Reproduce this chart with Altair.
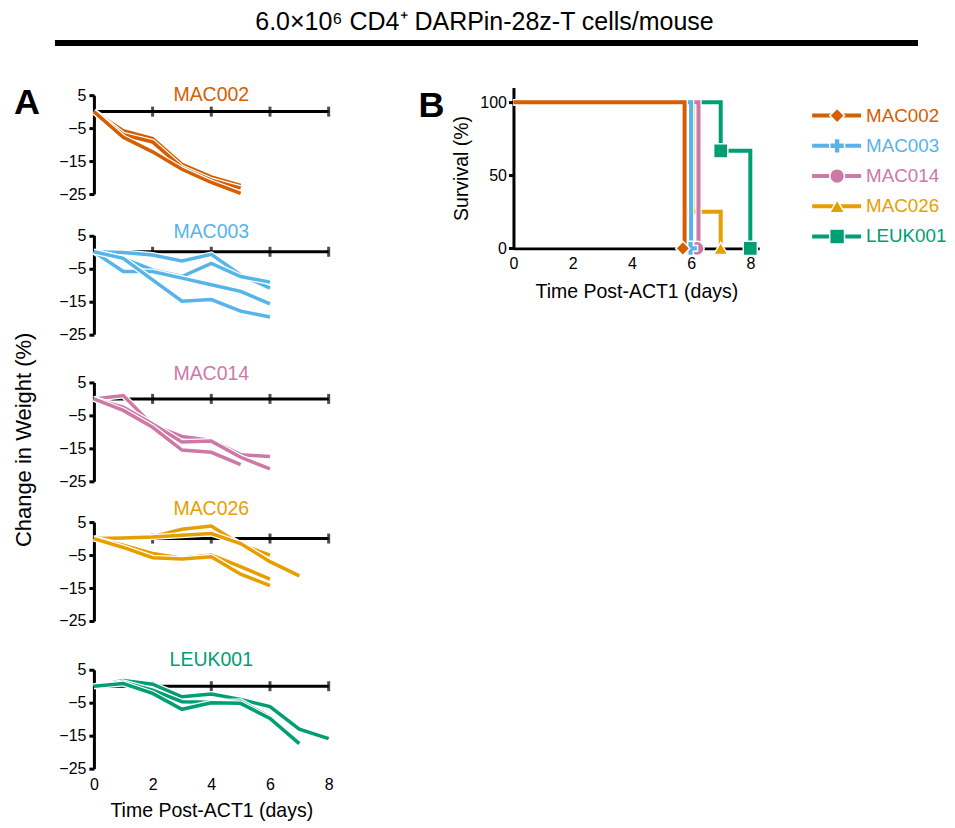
import altair as alt
import pandas as pd

FONT = "Liberation Sans"

header_title = "6.0×10⁶ CD4⁺ DARPin-28z-T cells/mouse"
panel_letters = ["A", "B"]
x_title = "Time Post-ACT1 (days)"
y_title_weight = "Change in Weight (%)"
y_title_surv = "Survival (%)"

groups = ["MAC002", "MAC003", "MAC014", "MAC026", "LEUK001"]
colors = ["#D55E00", "#56B4E9", "#CC79A7", "#E69F00", "#009E73"]
shapes = ["diamond", "cross", "circle", "triangle-up", "square"]

days = [0, 1, 2, 3, 4, 5, 6, 7, 8]
x_ticks = [0, 2, 4, 6, 8]
weight_ticks = [5, -5, -15, -25]
surv_ticks = [0, 50, 100]

# change in weight (%) per mouse, one value per day from day 0
weights = {
    "MAC002": [
        [0, -5.8, -8.2, -16.0, -19.8, -22.4],
        [0, -7.0, -9.2, -17.0, -20.8, -23.2],
        [0, -7.8, -12.2, -17.5, -21.5, -24.8],
    ],
    "MAC003": [
        [0, -0.2, -1.0, -2.8, -0.8, -7.0, -11.0],
        [0, -2.0, -5.5, -7.5, -3.5, -7.5, -9.2],
        [0, -6.0, -6.0, -8.0, -10.0, -12.0, -15.8],
        [0, -2.0, -8.5, -15.0, -14.5, -18.0, -19.8],
    ],
    "MAC014": [
        [0, 1.0, -8.0, -11.4, -12.6, -16.9, -17.5],
        [0, -2.5, -7.6, -13.1, -12.8, -17.7, -21.2],
        [0, -3.5, -8.6, -15.5, -16.2, -19.9],
    ],
    "MAC026": [
        [0, 0.3, 0.6, 2.8, 3.8, -1.8, -5.0],
        [0, 0.2, 0.5, 1.0, 1.5, -1.5, -7.0, -11.3],
        [0, -2.0, -4.5, -6.0, -5.0, -8.5, -12.3],
        [0, -2.7, -5.8, -6.2, -5.5, -10.8, -14.3],
    ],
    "LEUK001": [
        [0, 1.7, 0.6, -3.2, -2.4, -4.0, -6.2, -13.0, -15.9],
        [0, 1.2, -1.2, -4.7, -4.9, -4.6, -9.4, -17.0],
        [0, 0.8, -2.2, -7.0, -5.0, -5.2, -9.8, -17.4],
    ],
}

# Kaplan-Meier step vertices (time, survival %)
surv_times = {
    "MAC002": [0, 5.78, 5.78],
    "MAC003": [0, 6.0, 6.0],
    "MAC014": [0, 6.25, 6.25],
    "MAC026": [0, 6.05, 6.05, 7.0, 7.0],
    "LEUK001": [0, 7.0, 7.0, 8.0, 8.0],
}
surv_pct = {
    "MAC002": [100, 100, 0],
    "MAC003": [100, 100, 0],
    "MAC014": [100, 100, 0],
    "MAC026": [100, 100, 25, 25, 0],
    "LEUK001": [100, 100, 66.7, 66.7, 0],
}
marker_times = {
    "MAC002": [5.72],
    "MAC003": [5.98],
    "MAC014": [6.2],
    "MAC026": [5.9, 7.0],
    "LEUK001": [7.0, 8.0],
}
marker_pct = {
    "MAC002": [0],
    "MAC003": [0],
    "MAC014": [0],
    "MAC026": [25, 0],
    "LEUK001": [66.7, 0],
}

draw_order = ["LEUK001", "MAC026", "MAC014", "MAC003", "MAC002"]

# ---- layout constants ----
A_W, A_H, A_SPACING = 235, 99, 44.8
panel_shift = [0, -3.5, 0, -4, 0]
B_W, B_H, B_TOP = 246, 153.4, -7.6
title_dy = [0, -6.5, -8, -17, -10]
TICK_FS = 16
TITLE_FS = 19.5
LEG_FS = 18.8


def weight_panel(i):
    g = groups[i]
    c = colors[i]
    last = i == len(groups) - 1
    xs = alt.Scale(domain=[x_ticks[0], x_ticks[-1]], nice=False, zero=False)
    sh = panel_shift[i]
    ys = alt.Scale(domain=[weight_ticks[-1], weight_ticks[0]], range=[A_H + sh, sh],
                   nice=False, zero=False)
    if last:
        xaxis = alt.Axis(values=x_ticks, title=x_title, domain=False, ticks=False, tickSize=0,
                         grid=False, labelFont=FONT, labelFontSize=TICK_FS, labelColor="black",
                         labelPadding=8, labelFlush=False, titleFont=FONT, titleFontSize=TITLE_FS,
                         titleFontWeight="normal", titleColor="black", titlePadding=9)
    else:
        xaxis = None
    yaxis = alt.Axis(values=weight_ticks, title=None, grid=False, domainColor="black",
                     domainWidth=3, tickColor="black", tickWidth=3, tickSize=5,
                     labelFont=FONT, labelFontSize=TICK_FS, labelColor="black",
                     labelPadding=3, labelFlush=False)

    layers = []
    axis_df = pd.DataFrame({"x": [x_ticks[0]], "x2": [x_ticks[-1]], "y": [0]})
    layers.append(
        alt.Chart(axis_df).mark_rule(color="black", strokeWidth=3).encode(
            x=alt.X("x:Q", scale=xs, axis=xaxis), x2="x2:Q",
            y=alt.Y("y:Q", scale=ys, axis=yaxis)))
    tick_df = pd.DataFrame({"x": x_ticks[1:], "y": [0] * (len(x_ticks) - 1)})
    layers.append(
        alt.Chart(tick_df).mark_tick(orient="vertical", size=10, thickness=3, color="black").encode(
            x=alt.X("x:Q", scale=xs, axis=xaxis), y=alt.Y("y:Q", scale=ys, axis=yaxis)))
    for m, series in enumerate(weights[g]):
        sub = pd.DataFrame({"day": days[:len(series)], "w": series})
        enc = dict(x=alt.X("day:Q", scale=xs, axis=xaxis), y=alt.Y("w:Q", scale=ys, axis=yaxis))
        layers.append(alt.Chart(sub).mark_line(color="white", strokeWidth=6).encode(**enc))
        layers.append(alt.Chart(sub).mark_line(color=c, strokeWidth=3.5).encode(**enc))
    layers.append(
        alt.Chart(pd.DataFrame({"g": [g]})).mark_text(
            font=FONT, fontSize=TITLE_FS, color=c, baseline="middle", align="center").encode(
            text="g:N", x=alt.value(A_W / 2), y=alt.value(title_dy[i])))
    if i == 0:
        layers.append(
            alt.Chart(pd.DataFrame({"p": [panel_letters[0]]})).mark_text(
                font=FONT, fontSize=36, fontWeight="bold", color="black",
                baseline="middle", align="center").encode(
                text="p:N", x=alt.value(-67), y=alt.value(8.2)))
    if i == 2:
        layers.append(
            alt.Chart(pd.DataFrame({"t": [y_title_weight]})).mark_text(
                font=FONT, fontSize=22, color="black", angle=270,
                baseline="middle", align="center").encode(
                text="t:N", x=alt.value(-70), y=alt.value(57.5)))
    return alt.layer(*layers).properties(width=A_W, height=A_H)


def survival_chart():
    xs = alt.Scale(domain=[0, 8.3], nice=False, zero=False)
    ys = alt.Scale(domain=[0, 110], range=[B_H, B_TOP], nice=False, zero=False)
    xaxis = alt.Axis(values=x_ticks, title=x_title, domainColor="black", domainWidth=3,
                     ticks=False, tickSize=0, grid=False, labelFont=FONT, labelFontSize=TICK_FS,
                     labelColor="black", labelPadding=7, labelFlush=False, titleFont=FONT,
                     titleFontSize=TITLE_FS, titleFontWeight="normal", titleColor="black",
                     titlePadding=11)
    yaxis = alt.Axis(values=surv_ticks, title=y_title_surv, domainColor="black", domainWidth=3,
                     tickColor="black", tickWidth=3, tickSize=5, grid=False, labelFont=FONT,
                     labelFontSize=TICK_FS, labelColor="black", labelPadding=2, labelFlush=False,
                     titleFont=FONT, titleFontSize=TITLE_FS, titleFontWeight="normal",
                     titleColor="black", titlePadding=8)
    layers = []
    for g in draw_order:
        k = groups.index(g)
        c = colors[k]
        sub = pd.DataFrame({"idx": list(range(len(surv_times[g]))),
                            "t": surv_times[g], "s": surv_pct[g]})
        enc = dict(x=alt.X("t:Q", scale=xs, axis=xaxis), y=alt.Y("s:Q", scale=ys, axis=yaxis),
                   order=alt.Order("idx:Q"))
        layers.append(alt.Chart(sub).mark_line(color="white", strokeWidth=6.5).encode(**enc))
        layers.append(alt.Chart(sub).mark_line(color=c, strokeWidth=4).encode(**enc))
        msub = pd.DataFrame({"t": marker_times[g], "s": marker_pct[g]})
        layers.append(
            alt.Chart(msub).mark_point(shape=shapes[k], filled=True, fill=c, stroke="white",
                                       strokeWidth=1.5, size=200, opacity=1).encode(
                x=alt.X("t:Q", scale=xs, axis=xaxis), y=alt.Y("s:Q", scale=ys, axis=yaxis)))
    layers.append(
        alt.Chart(pd.DataFrame({"p": [panel_letters[1]]})).mark_text(
            font=FONT, fontSize=36, fontWeight="bold", color="black",
            baseline="middle", align="center").encode(
            text="p:N", x=alt.value(-82), y=alt.value(10.7)))
    surv = alt.layer(*layers)

    leg_df = pd.DataFrame({"g": groups})
    ly = alt.Y("g:N", scale=alt.Scale(type="point", domain=groups, range=[20.5, 141.5], padding=0),
               axis=None)
    lc = alt.Scale(domain=groups, range=colors)
    legend = alt.layer(
        alt.Chart(leg_df).mark_rule(strokeWidth=4).encode(
            x=alt.value(299), x2=alt.value(348), y=ly,
            color=alt.Color("g:N", scale=lc, legend=None)),
        alt.Chart(leg_df).mark_point(filled=True, size=220, stroke="white", strokeWidth=1.5,
                                     opacity=1).encode(
            x=alt.value(324), y=ly, fill=alt.Fill("g:N", scale=lc, legend=None),
            shape=alt.Shape("g:N", scale=alt.Scale(domain=groups, range=shapes), legend=None)),
        alt.Chart(leg_df).mark_text(align="left", baseline="middle", font=FONT,
                                    fontSize=LEG_FS).encode(
            x=alt.value(353), y=ly, text="g:N", color=alt.Color("g:N", scale=lc, legend=None)),
    )
    return alt.layer(surv, legend).resolve_scale(y="independent").properties(width=B_W, height=B_H)


header = alt.layer(
    alt.Chart(pd.DataFrame({"t": [header_title]})).mark_text(
        font=FONT, fontSize=25, color="black", align="center", baseline="middle").encode(
        text="t:N", x=alt.value(391), y=alt.value(0)),
    alt.Chart(pd.DataFrame({"t": [header_title]})).mark_rule(color="black", strokeWidth=6).encode(
        x=alt.value(-39), x2=alt.value(825), y=alt.value(20.5)),
).properties(width=A_W, height=30)

a_col = alt.vconcat(*[weight_panel(i) for i in range(len(groups))],
                    spacing=A_SPACING, bounds="flush")
row = alt.hconcat(a_col, survival_chart(), spacing=420, bounds="flush")

chart = alt.vconcat(header, row, spacing=42.8, bounds="flush").properties(
    padding={"left": 4, "top": 2, "right": 0, "bottom": 0}
).configure_view(stroke=None)

chart.save("out.html", embed_options={"renderer": "svg", "actions": False})
